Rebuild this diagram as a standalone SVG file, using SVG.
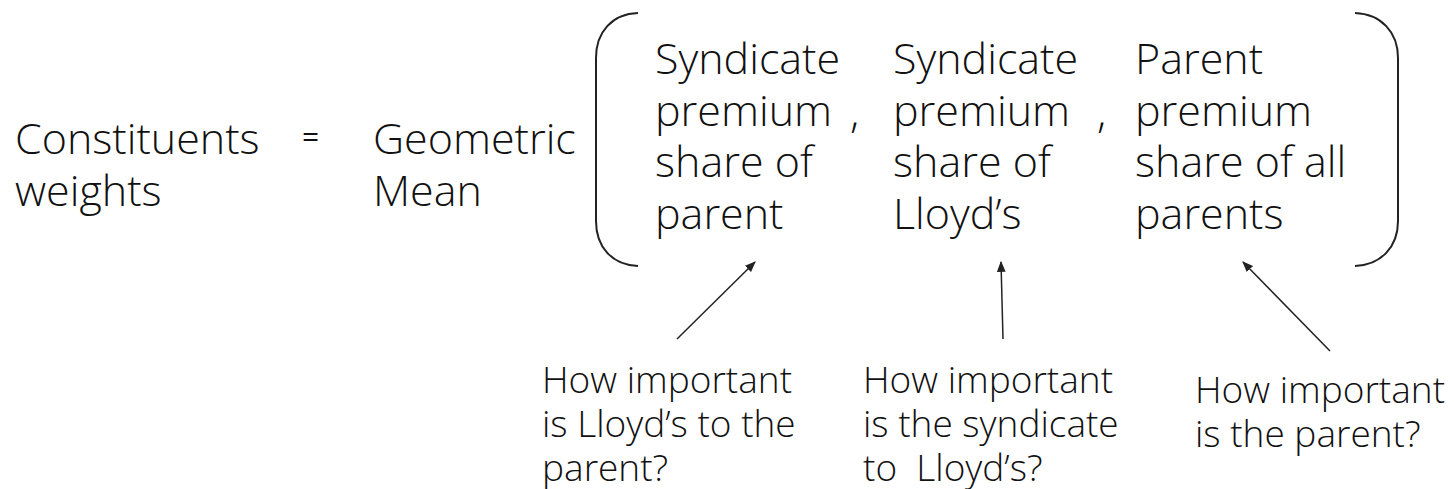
<svg xmlns="http://www.w3.org/2000/svg" width="1454" height="489" viewBox="0 0 1454 489">
<style>
.t{font-family:"Open Sans","Liberation Sans",sans-serif;font-size:43px;font-weight:300;fill:#111;white-space:pre}
.s{font-family:"Open Sans","Liberation Sans",sans-serif;font-size:37px;font-weight:300;fill:#111;white-space:pre}
.br{fill:none;stroke:#222;stroke-width:2}
.ar{fill:none;stroke:#222;stroke-width:1.5}
</style>
<defs>
<marker id="ah" viewBox="0 0 10 10" refX="9" refY="5" markerWidth="11" markerHeight="11" orient="auto" markerUnits="userSpaceOnUse">
<path d="M0,1 L10,5 L0,9 z" fill="#222"/>
</marker>
</defs>
<g id="lhs"><text class="t"><tspan x="15" y="154">Constituents</tspan><tspan x="15" y="206">weights</tspan></text></g>
<g id="eq"><text class="t" x="302" y="147" style="font-size:30px;font-weight:400">=</text></g>
<g id="gm"><text class="t"><tspan x="373" y="154">Geometric</tspan><tspan x="373" y="206">Mean</tspan></text></g>
<g id="brackets">
<path class="br" d="M638,13 C612,14 596,32 596,58 L596,221 C596,247 612,265 638,266"/>
<path class="br" d="M1355,13 C1381,14 1398,32 1398,58 L1398,221 C1398,247 1381,265 1355,266"/>
</g>
<g id="term1"><text class="t"><tspan x="655" y="74">Syndicate</tspan><tspan x="655" y="126">premium</tspan><tspan x="655" y="177">share of</tspan><tspan x="655" y="229">parent</tspan></text></g>
<g id="comma1"><text class="t" x="850" y="128">,</text></g>
<g id="term2"><text class="t"><tspan x="893" y="74">Syndicate</tspan><tspan x="893" y="126">premium</tspan><tspan x="893" y="177">share of</tspan><tspan x="893" y="229">Lloyd’s</tspan></text></g>
<g id="comma2"><text class="t" x="1097" y="128">,</text></g>
<g id="term3"><text class="t"><tspan x="1135" y="74">Parent</tspan><tspan x="1135" y="126">premium</tspan><tspan x="1135" y="177">share of all</tspan><tspan x="1135" y="229">parents</tspan></text></g>
<g id="q1"><text class="s"><tspan x="542" y="393">How important</tspan><tspan x="542" y="437">is Lloyd’s to the</tspan><tspan x="542" y="481">parent?</tspan></text></g>
<g id="q2"><text class="s"><tspan x="863" y="393">How important</tspan><tspan x="863" y="437">is the syndicate</tspan><tspan x="863" y="481">to  Lloyd’s?</tspan></text></g>
<g id="q3"><text class="s"><tspan x="1195" y="403">How important</tspan><tspan x="1195" y="447">is the parent?</tspan></text></g>
<g id="connectors">
<line class="ar" x1="677" y1="339" x2="755" y2="262" marker-end="url(#ah)"/>
<line class="ar" x1="1003" y1="339" x2="1001" y2="262" marker-end="url(#ah)"/>
<line class="ar" x1="1330" y1="351" x2="1243" y2="262" marker-end="url(#ah)"/>
</g>
</svg>
